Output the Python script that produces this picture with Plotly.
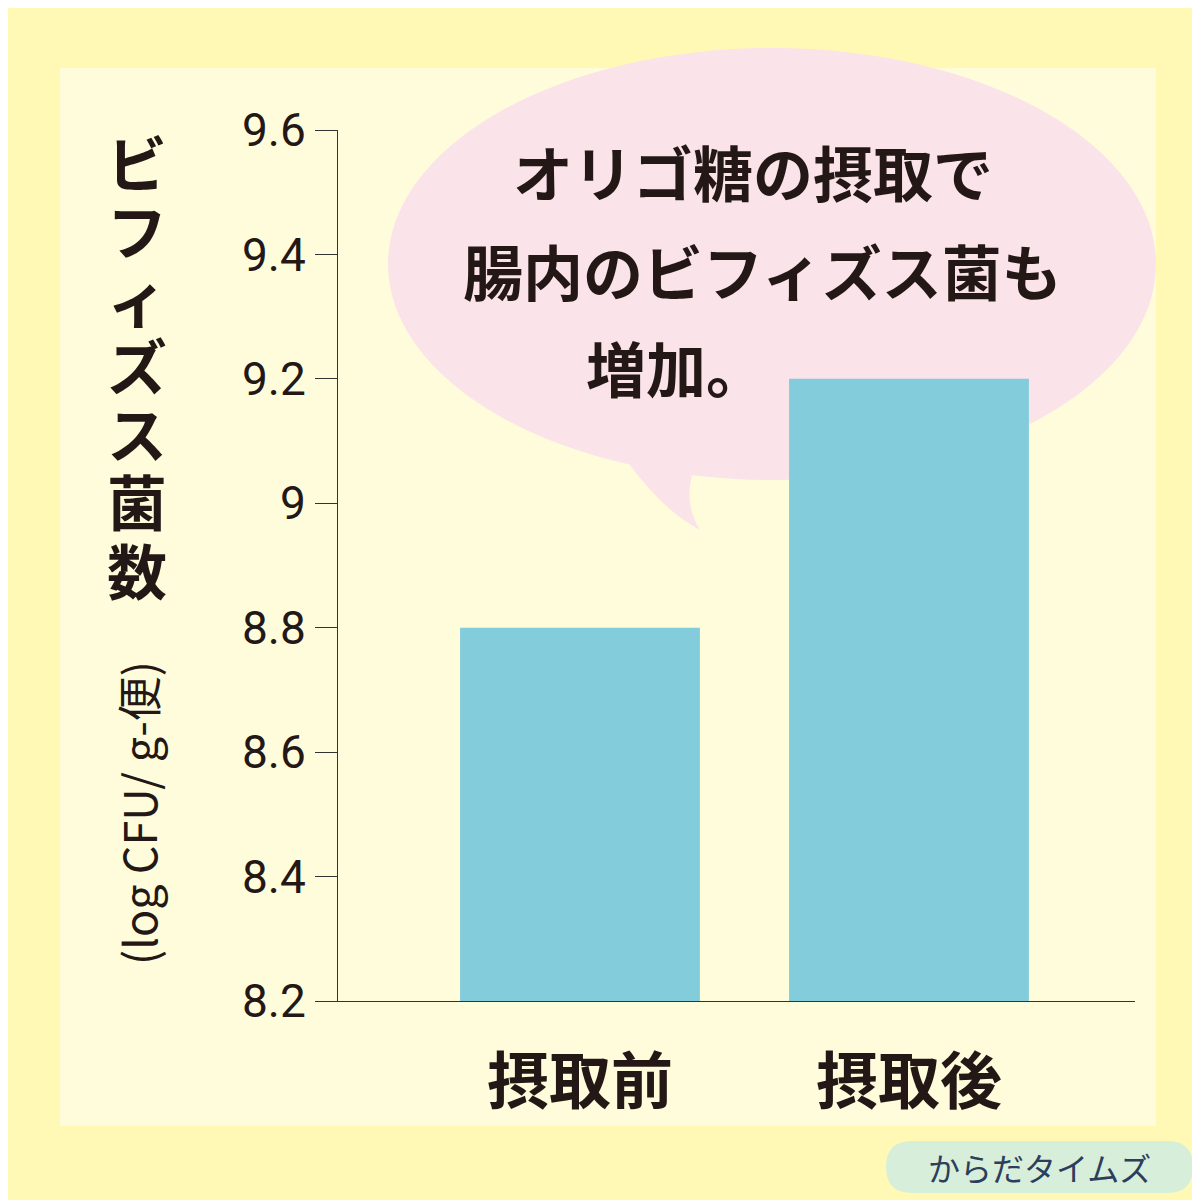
import plotly.graph_objects as go

categories = ["摂取前", "摂取後"]
values = [8.8, 9.2]
y_ticks = [8.2, 8.4, 8.6, 8.8, 9.0, 9.2, 9.4, 9.6]
y_labels = ["8.2", "8.4", "8.6", "8.8", "9", "9.2", "9.4", "9.6"]
y_title = "ビフィズス菌数"
y_unit = "(log CFU/ g-便)"

W = 1200
def px(x): return x / W
def py(y): return 1 - y / W

fig = go.Figure(go.Bar(x=[0, 1], y=values, width=0.729, marker_color="#83CCDB",
                       marker_line_width=0))

font = "Noto Sans CJK JP"
ink = "#231815"
shapes = [
    dict(type="rect", xref="paper", yref="paper", x0=px(52), x1=px(1148), y0=py(1118), y1=py(60),
         fillcolor="#FFFCDC", line_width=0, layer="below"),
    dict(type="circle", xref="paper", yref="paper", x0=px(380), x1=px(1148), y0=py(472), y1=py(40),
         fillcolor="#FBE3EA", line_width=0, layer="below"),
    dict(type="path", xref="paper", yref="paper",
         path=f"M {px(610)},{py(440)} Q {px(650)},{py(500)} {px(692)},{py(522)} Q {px(672)},{py(490)} {px(690)},{py(450)} Z",
         fillcolor="#FBE3EA", line_width=0, layer="below"),
    dict(type="path", xref="paper", yref="paper",
         path=f"M {px(904)},{py(1133)} L {px(1159)},{py(1133)} Q {px(1185)},{py(1133)} {px(1185)},{py(1159)} "
              f"Q {px(1185)},{py(1185)} {px(1159)},{py(1185)} L {px(904)},{py(1185)} "
              f"Q {px(878)},{py(1185)} {px(878)},{py(1159)} Q {px(878)},{py(1133)} {px(904)},{py(1133)} Z",
         fillcolor="#D6EEDA", line_width=0, layer="below"),
]

bold = dict(color=ink, family=font, weight="bold")
ann = [
    dict(text="オリゴ糖の摂取で", x=px(503), y=py(162), xanchor="left", font=dict(size=60, **bold)),
    dict(text="腸内のビフィズス菌も", x=px(453), y=py(262), xanchor="left", font=dict(size=60, **bold)),
    dict(text="増加。", x=px(576), y=py(358), xanchor="left", font=dict(size=60, **bold)),
    dict(text=y_unit, x=px(130), y=py(805), textangle=-90, xanchor="center", font=dict(size=45, color=ink, family=font)),
    dict(text="からだタイムズ", x=px(1031), y=py(1159), xanchor="center", font=dict(size=32, color="#2C3E5C", family=font)),
]
for i, ch in enumerate(y_title):
    ann.append(dict(text=ch, x=px(129), y=py(152 + i * 68), xanchor="center", font=dict(size=60, **bold)))
for a in ann:
    a.update(xref="paper", yref="paper", showarrow=False, yanchor="middle")

fig.update_layout(
    width=1200, height=1200, margin=dict(l=0, r=0, t=0, b=0, autoexpand=False),
    paper_bgcolor="#FFF9B5", plot_bgcolor="rgba(0,0,0,0)",
    shapes=shapes, annotations=ann, showlegend=False,
    xaxis=dict(domain=[px(330), px(1127)], range=[-0.7355, 1.687], tickvals=[0, 1], ticktext=categories,
               showline=True, linecolor="#333", linewidth=1, ticks="", showgrid=False, zeroline=False,
               automargin=False,
               tickfont=dict(size=62, **bold), ticklabelstandoff=28),
    yaxis=dict(domain=[py(993), py(122)], range=[8.2, 9.6], tickvals=y_ticks, ticktext=y_labels,
               showline=True, linecolor="#333", linewidth=1, ticks="outside", ticklen=22, tickcolor="#333",
               showgrid=False, zeroline=False, automargin=False,
               tickfont=dict(size=46, color=ink, family="Roboto")),
)
fig.write_html("out.html")
